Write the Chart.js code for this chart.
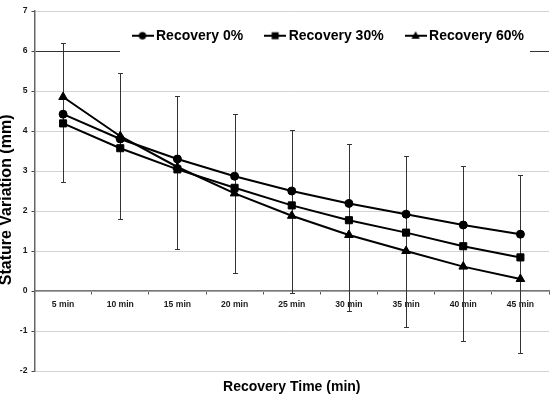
<!DOCTYPE html>
<html><head><meta charset="utf-8">
<script src="https://cdn.jsdelivr.net/npm/chart.js@4.4.1/dist/chart.umd.min.js"></script>
<style>html,body{margin:0;padding:0;background:#fff;}</style>
</head><body>
<canvas id="c" width="555" height="394"></canvas>
<script>
const categories = ['5 min','10 min','15 min','20 min','25 min','30 min','35 min','40 min','45 min'];
const seriesNames = ['Recovery 0%','Recovery 30%','Recovery 60%'];
const recovery0  = [4.42, 3.80, 3.30, 2.87, 2.50, 2.19, 1.92, 1.65, 1.42];
const recovery30 = [4.19, 3.57, 3.04, 2.58, 2.14, 1.77, 1.46, 1.12, 0.84];
const recovery60 = [4.85, 3.87, 3.10, 2.44, 1.88, 1.40, 1.00, 0.61, 0.30];
const errorHigh  = [6.20, 5.44, 4.87, 4.42, 4.03, 3.68, 3.38, 3.13, 2.90];
const errorLow   = [2.73, 1.81, 1.05, 0.46, -0.06, -0.51, -0.89, -1.24, -1.56];
const yMin = -2, yMax = 7, yStep = 1;
const xTitle = 'Recovery Time (min)';
const yTitle = 'Stature Variation (mm)';

const FONT = '"Liberation Sans", Arial, sans-serif';

function makeIcon(style) {
  const c = document.createElement('canvas');
  c.width = 22; c.height = 12;
  const g = c.getContext('2d');
  g.strokeStyle = '#000'; g.lineWidth = 2;
  g.beginPath(); g.moveTo(0, 6); g.lineTo(22, 6); g.stroke();
  g.fillStyle = '#000';
  if (style === 'circle') { g.beginPath(); g.arc(11, 6, 3.7, 0, Math.PI * 2); g.fill(); }
  else if (style === 'rect') { g.fillRect(7.5, 2.5, 7, 7); }
  else { g.beginPath(); g.moveTo(11, 1.5); g.lineTo(15.2, 9); g.lineTo(6.8, 9); g.closePath(); g.fill(); }
  return c;
}
const legendIcons = [makeIcon('circle'), makeIcon('rect'), makeIcon('triangle')];

const overlay = {
  id: 'overlay',
  afterLayout(chart) {
    const lg = chart.legend;
    lg.left = 110.5; lg.right = 555; lg.width = lg.right - lg.left;
    lg.top = 3.2; lg.bottom = 62; lg.height = lg.bottom - lg.top;
  },
  beforeDatasetsDraw(chart) {
    const ctx = chart.ctx;
    ctx.save();
    ctx.fillStyle = '#fff';
    ctx.fillRect(120, 20, 410, 37);
    ctx.restore();
    chart.legend.draw();
    const xs = chart.scales.x, ys = chart.scales.y;
    ctx.save();
    ctx.strokeStyle = '#333';
    ctx.lineWidth = 1;
    categories.forEach((c, i) => {
      const x = Math.round(xs.getPixelForValue(i)) + 0.5;
      const y1 = Math.round(ys.getPixelForValue(errorLow[i])) + 0.5;
      const y2 = Math.round(ys.getPixelForValue(errorHigh[i])) + 0.5;
      ctx.beginPath();
      ctx.moveTo(x, y1); ctx.lineTo(x, y2);
      ctx.moveTo(x - 2.5, y1); ctx.lineTo(x + 2.5, y1);
      ctx.moveTo(x - 2.5, y2); ctx.lineTo(x + 2.5, y2);
      ctx.stroke();
    });
    ctx.restore();
  }
};

function ds(label, data, style, radius) {
  return {
    label, data,
    borderColor: '#000', backgroundColor: '#000',
    borderWidth: 2, pointStyle: style, pointRadius: radius, pointHoverRadius: radius,
    pointBorderWidth: 1, pointBackgroundColor: '#000', pointBorderColor: '#000',
    tension: 0, fill: false
  };
}

new Chart(document.getElementById('c'), {
  type: 'line',
  data: {
    labels: categories,
    datasets: [
      ds(seriesNames[0], recovery0, 'circle', 4),
      ds(seriesNames[1], recovery30, 'rect', 5),
      ds(seriesNames[2], recovery60, 'triangle', 5)
    ]
  },
  options: {
    responsive: false,
    animation: false,
    events: [],
    layout: { padding: { top: 10, left: 0, right: 5.7, bottom: 0 } },
    scales: {
      x: {
        type: 'category',
        position: { y: 0 },
        offset: true,
        grid: { display: true, drawOnChartArea: false, drawTicks: true, tickLength: 3, offset: true, color: '#555' },
        border: { display: true, color: '#777', width: 1.5 },
        ticks: { font: { family: FONT, size: 8.6, weight: 'bold' }, color: '#1a1a1a', padding: 5, maxRotation: 0, autoSkip: false },
        afterFit(s) { s.height = 0; }
      },
      y: {
        position: 'left',
        min: yMin, max: yMax,
        ticks: { stepSize: yStep, font: { family: FONT, size: 8.6, weight: 'bold' }, color: '#1a1a1a', padding: 4 },
        grid: {
          color: (c) => (c.tick && c.tick.value === 6) ? '#333' : '#d3d3d3',
          tickColor: '#444', tickLength: 3, lineWidth: 1
        },
        border: { display: true, color: '#666', width: 1.5 },
        title: {
          display: true, text: yTitle + '    ', color: '#000',
          font: { family: FONT, size: 16, weight: 'bold', lineHeight: 1 },
          padding: { top: -1, bottom: 0 }
        },
        afterFit(s) { s.width = 34.5; }
      }
    },
    plugins: {
      tooltip: { enabled: false },
      legend: {
        display: true, position: 'top', align: 'start', maxHeight: 1,
        labels: {
          usePointStyle: true, pointStyleWidth: 13, padding: 25.5, color: '#000',
          font: { family: FONT, size: 14, weight: 'bold' },
          generateLabels(chart) {
            const items = Chart.defaults.plugins.legend.labels.generateLabels(chart);
            items.forEach((it, i) => { it.pointStyle = legendIcons[i]; });
            return items;
          }
        }
      },
      title: {
        display: true, text: xTitle, position: 'bottom', fullSize: false, color: '#000',
        font: { family: FONT, size: 14, weight: 'bold', lineHeight: 0.964 },
        padding: { top: 9.5, bottom: 0 }
      }
    }
  },
  plugins: [overlay]
});
</script>
</body></html>
